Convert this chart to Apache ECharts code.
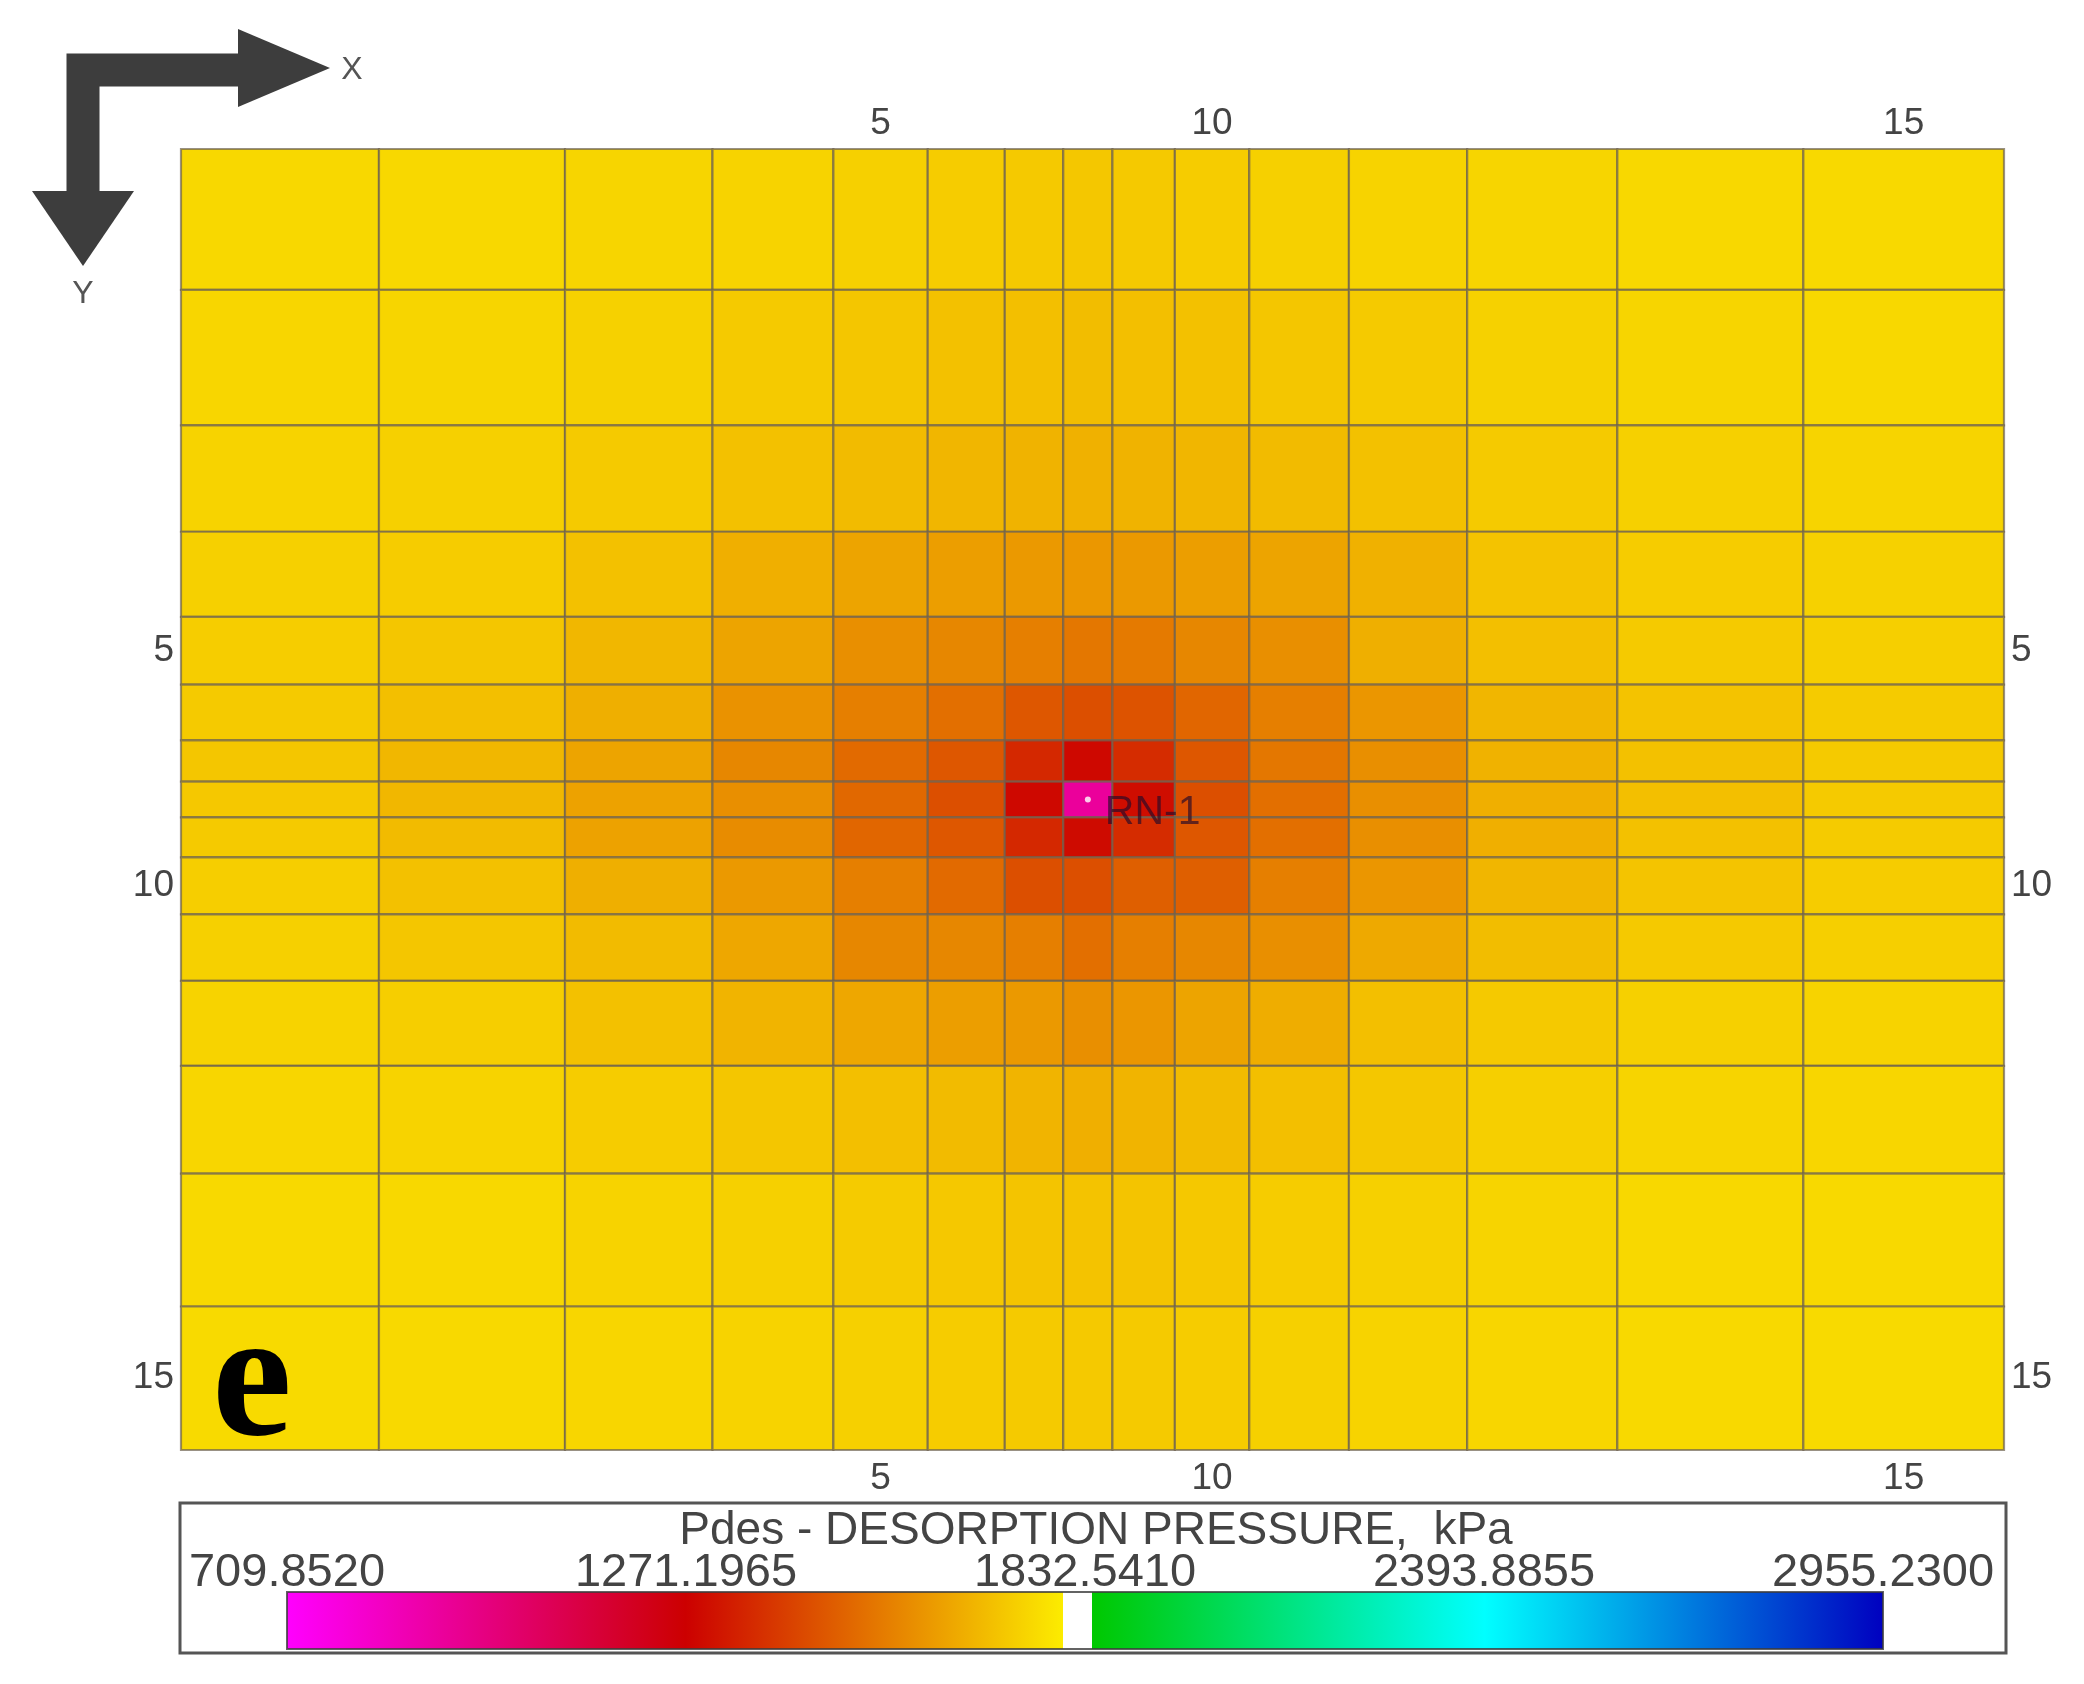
<!DOCTYPE html>
<html>
<head>
<meta charset="utf-8">
<title>Pdes - DESORPTION PRESSURE</title>
<script src="https://cdn.jsdelivr.net/npm/echarts@6/dist/echarts.min.js"></script>
<style>
html, body { margin: 0; padding: 0; background: #fff; }
#chart { width: 2084px; height: 1684px; }
</style>
</head>
<body>
<div id="chart"></div>
<script>
// block sizes of the simulation grid
const cellWidths = [149, 140, 111, 91, 71, 58, 44, 37, 47, 56, 75, 89, 113, 140, 151];
const cellHeights = [106, 102, 80, 64, 51, 42, 31, 27, 30, 43, 50, 64, 81, 100, 108];
const tickCells = [5, 10, 15];

// desorption pressure per block, kPa, one row per j
const row1 = [1755, 1755, 1750, 1745, 1738, 1730, 1722, 1718, 1722, 1730, 1738, 1745, 1750, 1755, 1758];
const row2 = [1752, 1750, 1740, 1725, 1715, 1705, 1700, 1695, 1700, 1705, 1715, 1725, 1740, 1750, 1755];
const row3 = [1745, 1738, 1725, 1705, 1690, 1680, 1672, 1668, 1672, 1680, 1690, 1705, 1725, 1738, 1748];
const row4 = [1738, 1730, 1705, 1665, 1640, 1625, 1615, 1610, 1615, 1625, 1640, 1668, 1710, 1730, 1740];
const row5 = [1732, 1716, 1681, 1640, 1592, 1574, 1556, 1538, 1545, 1574, 1592, 1663, 1700, 1725, 1735];
const row6 = [1725, 1699, 1663, 1600, 1556, 1520, 1467, 1449, 1458, 1500, 1556, 1609, 1680, 1710, 1728];
const row7 = [1716, 1681, 1640, 1574, 1510, 1467, 1360, 1290, 1370, 1467, 1538, 1592, 1670, 1705, 1725];
const row8 = [1720, 1681, 1635, 1592, 1505, 1449, 1290, 930, 1300, 1449, 1520, 1592, 1665, 1700, 1725];
const row9 = [1725, 1690, 1635, 1585, 1500, 1467, 1360, 1295, 1370, 1467, 1520, 1592, 1665, 1705, 1728];
const row10 = [1734, 1705, 1663, 1615, 1556, 1510, 1449, 1449, 1485, 1485, 1556, 1609, 1680, 1712, 1730];
const row11 = [1738, 1716, 1690, 1645, 1574, 1574, 1556, 1520, 1556, 1574, 1592, 1650, 1695, 1722, 1735];
const row12 = [1745, 1734, 1705, 1675, 1645, 1627, 1615, 1592, 1609, 1640, 1660, 1699, 1722, 1738, 1745];
const row13 = [1752, 1745, 1730, 1715, 1700, 1690, 1675, 1665, 1675, 1690, 1700, 1718, 1735, 1748, 1752];
const row14 = [1758, 1755, 1745, 1738, 1728, 1720, 1712, 1708, 1712, 1720, 1730, 1738, 1748, 1755, 1758];
const row15 = [1760, 1758, 1752, 1745, 1738, 1730, 1725, 1722, 1725, 1730, 1738, 1745, 1752, 1758, 1760];
const rows = [row1, row2, row3, row4, row5, row6, row7, row8, row9, row10, row11, row12, row13, row14, row15];

// colour scale
const scaleTicks = [709.852, 1271.1965, 1832.541, 2393.8855, 2955.23];
const scaleValues = [709.852, 1271.1965, 1801, 1801, 1843, 1843, 2393.8855, 2955.23];
const scaleColors = ['#ff00ff', '#cc0000', '#fcec00', '#ffffff', '#ffffff', '#00c800', '#00ffff', '#0000c0'];

// well RN-1, block it sits in
const wellCell = [8, 8];
const wellName = 'RN-1';

function edgesOf(sizes) {
    var edges = [0];
    sizes.forEach(function(s) {
        edges.push(edges[edges.length - 1] + s)
    });
    return edges
}

function colorOf(v) {
    for (var i = 0; i < scaleValues.length - 1; i++) {
        if (v <= scaleValues[i + 1] && scaleValues[i + 1] > scaleValues[i]) {
            var t = (v - scaleValues[i]) / (scaleValues[i + 1] - scaleValues[i]);
            return echarts.color.lerp(t, [scaleColors[i], scaleColors[i + 1]])
        }
    }
    return scaleColors[scaleColors.length - 1]
}

const xEdges = edgesOf(cellWidths);
const yEdges = edgesOf(cellHeights);
const xCenters = tickCells.map((c) => (xEdges[c - 1] + xEdges[c]) / 2);
const yCenters = tickCells.map((c) => (yEdges[c - 1] + yEdges[c]) / 2);

var cells = [];
rows.forEach(function(row, j) {
    row.forEach(function(v, i) {
        cells.push([xEdges[i], xEdges[i + 1], yEdges[j], yEdges[j + 1], v])
    })
});

function renderCell(params, api) {
    var p0 = api.coord([api.value(0), api.value(2)]);
    var p1 = api.coord([api.value(1), api.value(3)]);
    return {
        type: 'rect',
        shape: { x: p0[0], y: p0[1], width: p1[0] - p0[0], height: p1[1] - p0[1] },
        style: { fill: colorOf(api.value(4)), stroke: 'rgba(110,98,80,0.7)', lineWidth: 2.2 }
    }
}

function renderBar(params, api) {
    var p0 = api.coord([scaleValues[0], 0]);
    var p1 = api.coord([scaleValues[scaleValues.length - 1], 1]);
    var span = scaleValues[scaleValues.length - 1] - scaleValues[0];
    return {
        type: 'rect',
        shape: { x: p0[0], y: p1[1], width: p1[0] - p0[0], height: p0[1] - p1[1] },
        style: {
            fill: new echarts.graphic.LinearGradient(0, 0, 1, 0, scaleValues.map(function(v, i) {
                return { offset: (v - scaleValues[0]) / span, color: scaleColors[i] }
            })),
            stroke: 'rgba(60,60,60,0.8)',
            lineWidth: 2
        }
    }
}

function cellAxis(position, centers, margin) {
    return {
        type: 'value',
        gridIndex: 0,
        position: position,
        min: 0,
        max: centers === xCenters ? xEdges[15] : yEdges[15],
        inverse: centers === yCenters,
        axisLine: { show: false },
        axisTick: { show: false },
        splitLine: { show: false },
        axisLabel: {
            customValues: centers,
            margin: margin,
            color: '#444',
            fontFamily: 'Liberation Sans',
            fontSize: 37,
            formatter: function(v) {
                return String(tickCells[centers.indexOf(v)])
            }
        }
    }
}

const myChart = echarts.init(document.getElementById('chart'));
const option = {
    backgroundColor: '#fff',
    animation: false,
    title: {
        text: 'Pdes - DESORPTION PRESSURE,  kPa',
        left: 1091,
        top: 1503,
        textAlign: 'center',
        textStyle: { color: '#444', fontFamily: 'Liberation Sans', fontWeight: 'normal', fontSize: 46 }
    },
    grid: [
        { left: 181, top: 149, width: 1823, height: 1301 },
        { left: 287, top: 1592, width: 1596, height: 57 }
    ],
    xAxis: [
        cellAxis('top', xCenters, 7),
        cellAxis('bottom', xCenters, 10),
        {
            type: 'value',
            gridIndex: 1,
            position: 'top',
            min: scaleTicks[0],
            max: scaleTicks[4],
            axisLine: { show: false },
            axisTick: { show: false },
            splitLine: { show: false },
            axisLabel: {
                customValues: scaleTicks,
                margin: -5,
                color: '#444',
                fontFamily: 'Liberation Sans',
                fontSize: 47,
                formatter: (v) => v.toFixed(4)
            }
        }
    ],
    yAxis: [
        cellAxis('left', yCenters, 7),
        cellAxis('right', yCenters, 7),
        { type: 'value', gridIndex: 1, min: 0, max: 1, show: false }
    ],
    series: [{
        type: 'custom',
        xAxisIndex: 0,
        yAxisIndex: 0,
        renderItem: renderCell,
        encode: { x: [0, 1], y: [2, 3] },
        data: cells,
        silent: true
    }, {
        type: 'scatter',
        xAxisIndex: 0,
        yAxisIndex: 0,
        symbolSize: 6,
        itemStyle: { color: '#fff' },
        label: {
            show: true,
            position: 'right',
            distance: 14,
            offset: [0, 13],
            formatter: wellName,
            color: 'rgba(40,10,40,0.85)',
            fontFamily: 'Liberation Sans',
            fontSize: 41
        },
        data: [[(xEdges[wellCell[0] - 1] + xEdges[wellCell[0]]) / 2, (yEdges[wellCell[1] - 1] + yEdges[wellCell[1]]) / 2]],
        silent: true
    }, {
        type: 'custom',
        xAxisIndex: 2,
        yAxisIndex: 2,
        renderItem: renderBar,
        data: [[scaleValues[0], 0]],
        silent: true
    }],
    graphic: [
        // legend frame
        { type: 'rect', shape: { x: 180, y: 1503, width: 1826, height: 150 }, style: { fill: 'none', stroke: '#555', lineWidth: 3 }, z: -1 },
        // orientation arrows
        { type: 'polyline', shape: { points: [[83, 215], [83, 70], [260, 70]] }, style: { fill: 'none', stroke: '#3d3d3d', lineWidth: 33 } },
        { type: 'polygon', shape: { points: [[238, 29], [330, 68], [238, 107]] }, style: { fill: '#3d3d3d' } },
        { type: 'polygon', shape: { points: [[32, 191], [134, 191], [83, 266]] }, style: { fill: '#3d3d3d' } },
        { type: 'text', x: 352, y: 70, style: { text: 'X', fill: '#555', font: '32px "Liberation Sans"', textAlign: 'center', textVerticalAlign: 'middle' } },
        { type: 'text', x: 83, y: 294, style: { text: 'Y', fill: '#555', font: '32px "Liberation Sans"', textAlign: 'center', textVerticalAlign: 'middle' } },
        // panel letter
        { type: 'text', x: 252, y: 1387, z: 10, style: { text: 'e', fill: '#000', font: 'bold 180px "Liberation Serif"', textAlign: 'center', textVerticalAlign: 'middle' } }
    ]
};
myChart.setOption(option);
</script>
</body>
</html>
